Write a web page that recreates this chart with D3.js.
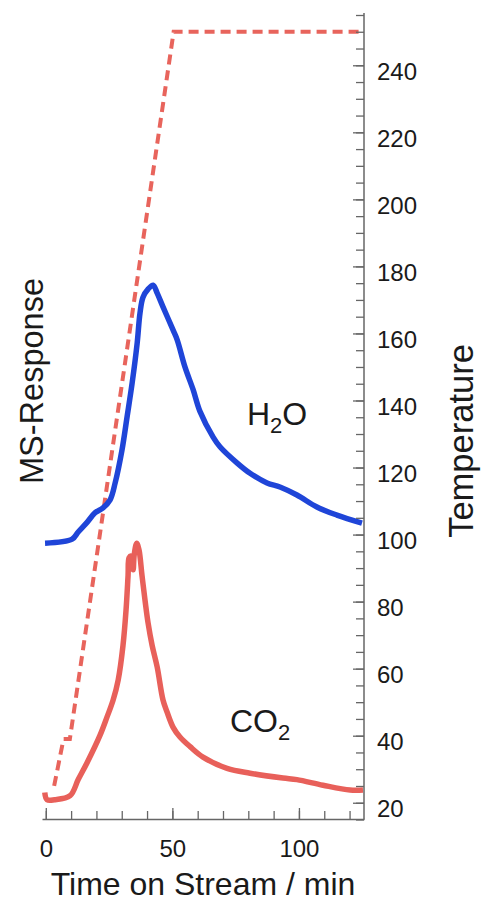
<!DOCTYPE html>
<html>
<head>
<meta charset="utf-8">
<script src="https://cdn.jsdelivr.net/npm/d3@7/dist/d3.min.js"></script>
<style>
  html, body { margin: 0; padding: 0; background: #fff; }
  svg { display: block; font-family: "Liberation Sans", Arial, Helvetica, sans-serif; }
</style>
</head>
<body>
<svg id="chart" width="481" height="903"></svg>
<script>
// Time on stream (min) and MS response (a.u.) for H2O
const h2oTime = [-0.3, 10.4, 12.8, 16.3, 19.5, 22.6, 25.4, 27.4, 30.1, 32.1, 34.1, 36.1, 37.2, 38.4, 40.4, 42.4,
  44.0, 46.3, 50.3, 51.9, 55.0, 58.2, 60.9, 66.1, 68.8, 75.5, 80.7, 87.4, 92.5, 99.2, 107.1, 115.0, 124.9];
const h2oSignal = [34.3, 34.8, 35.7, 36.9, 38.1, 38.7, 39.7, 41.8, 45.9, 50.0, 54.2, 59.2, 62.9, 64.9, 65.9, 66.4,
  65.4, 63.7, 60.8, 59.6, 56.2, 53.4, 50.7, 47.5, 46.3, 44.3, 43.0, 41.8, 41.3, 40.3, 38.8, 37.8, 36.8];

// Time on stream (min) and MS response (a.u.) for CO2
const co2Time = [-0.4, 0.5, 3.5, 9.6, 12.8, 16.3, 21.4, 24.2, 26.6, 28.6, 30.5, 31.7, 32.5, 32.9, 33.7, 34.5, 34.9,
  35.9, 36.8, 38.0, 39.2, 40.4, 42.0, 44.0, 46.3, 47.9, 50.3, 53.0, 57.0, 62.1, 71.6, 80.7, 93.7, 99.2, 109.5, 120.2, 125.3];
const co2Signal = [3.3, 2.4, 2.4, 2.9, 4.9, 7.0, 10.4, 12.7, 14.8, 17.3, 21.6, 26.0, 30.3, 32.5, 32.7, 31.0, 32.8,
  34.3, 33.5, 30.3, 27.2, 24.4, 21.6, 18.9, 14.8, 13.3, 11.4, 10.2, 9.0, 7.7, 6.3, 5.7, 5.1, 4.9, 4.2, 3.6, 3.6];

// Temperature programme (min, temperature)
const rampTime = [3.3, 7.0, 9.5, 50.5, 125.7];
const rampTemp = [25, 39, 39, 250, 250];

// Axis ticks
const timeTicks = [0, 50, 100];
const timeMinorTicks = d3.range(0, 121, 10);
const tempTicks = d3.range(20, 241, 20);
const tempMinorTicks = d3.range(15, 256, 5);

const svg = d3.select("#chart");

const x = d3.scaleLinear().domain([-1.5, 125.7]).range([42, 364]);
const yTemp = d3.scaleLinear().domain([15, 255]).range([819.5, 15]);
const yMS = d3.scaleLinear().domain([0, 100]).range([819, 15]);

const axisColor = "#666";
const textColor = "#1a1a1a";

// Temperature programme (dashed)
const ramp = rampTime.map((t, i) => [t, rampTemp[i]]);
svg.append("path")
  .datum(ramp)
  .attr("fill", "none")
  .attr("stroke", "#e8645c")
  .attr("stroke-width", 4)
  .attr("stroke-dasharray", "10,6")
  .attr("d", d3.line().x(d => x(d[0])).y(d => yTemp(d[1])));

const msLine = d3.line()
  .x(d => x(d[0]))
  .y(d => yMS(d[1]))
  .curve(d3.curveCatmullRom.alpha(0.5));

// CO2 trace
svg.append("path")
  .datum(co2Time.map((t, i) => [t, co2Signal[i]]))
  .attr("fill", "none")
  .attr("stroke", "#e8605a")
  .attr("stroke-width", 5.5)
  .attr("stroke-linejoin", "round")
  .attr("d", msLine);

// H2O trace
svg.append("path")
  .datum(h2oTime.map((t, i) => [t, h2oSignal[i]]))
  .attr("fill", "none")
  .attr("stroke", "#1f45d8")
  .attr("stroke-width", 5.5)
  .attr("stroke-linejoin", "round")
  .attr("d", msLine);

// Bottom axis: minor ticks then labelled majors
svg.append("g")
  .attr("transform", "translate(0,819)")
  .call(d3.axisBottom(x).tickValues(timeMinorTicks).tickSizeInner(-8).tickSizeOuter(0).tickFormat(""))
  .call(g => g.select(".domain").attr("stroke", axisColor).attr("stroke-width", 1.5))
  .call(g => g.selectAll(".tick line").attr("stroke", axisColor).attr("stroke-width", 1.3));

svg.append("g")
  .attr("transform", "translate(0,819)")
  .call(d3.axisBottom(x).tickValues(timeTicks).tickSizeInner(-11).tickSizeOuter(0).tickPadding(21).tickFormat(d3.format("d")))
  .call(g => g.select(".domain").remove())
  .call(g => g.selectAll(".tick line").attr("stroke", axisColor).attr("stroke-width", 1.3))
  .call(g => g.selectAll(".tick text")
    .attr("font-size", 24)
    .attr("font-family", "Liberation Sans, Arial, sans-serif")
    .attr("fill", textColor));

// Right temperature axis
svg.append("g")
  .attr("transform", "translate(364,0)")
  .call(d3.axisRight(yTemp).tickValues(tempMinorTicks).tickSizeInner(-8).tickSizeOuter(0).tickFormat(""))
  .call(g => g.select(".domain").attr("stroke", axisColor).attr("stroke-width", 1.5)
    .attr("d", `M0,13V${yTemp(15)}`))
  .call(g => g.selectAll(".tick line").attr("stroke", axisColor).attr("stroke-width", 1.3));

svg.append("g")
  .attr("transform", "translate(364,0)")
  .call(d3.axisRight(yTemp).tickValues(tempTicks).tickSizeInner(-11).tickSizeOuter(0).tickPadding(13).tickFormat(d3.format("d")))
  .call(g => g.select(".domain").remove())
  .call(g => g.selectAll(".tick line").attr("stroke", axisColor).attr("stroke-width", 1.3))
  .call(g => g.selectAll(".tick text")
    .attr("dy", "0.58em")
    .attr("font-size", 24)
    .attr("font-family", "Liberation Sans, Arial, sans-serif")
    .attr("fill", textColor));

// Axis titles
svg.append("text")
  .attr("x", 203).attr("y", 895)
  .attr("text-anchor", "middle")
  .attr("font-size", 32)
  .attr("fill", textColor)
  .text("Time on Stream / min");

svg.append("text")
  .attr("transform", "translate(43,381) rotate(-90)")
  .attr("text-anchor", "middle")
  .attr("font-size", 32.5)
  .attr("fill", textColor)
  .text("MS-Response");

svg.append("text")
  .attr("transform", "translate(473,441) rotate(-90)")
  .attr("text-anchor", "middle")
  .attr("font-size", 34.5)
  .attr("fill", textColor)
  .text("Temperature");

// Species labels with subscripts
function species(xPos, yPos, base, sub, tail) {
  const t = svg.append("text")
    .attr("x", xPos).attr("y", yPos)
    .attr("font-size", 32)
    .attr("fill", textColor);
  t.append("tspan").text(base);
  t.append("tspan").attr("font-size", 22).attr("dy", 8).text(sub);
  if (tail) t.append("tspan").attr("dy", -8).text(tail);
}
species(247, 425, "H", "2", "O");
species(230, 732, "CO", "2", "");
</script>
</body>
</html>
